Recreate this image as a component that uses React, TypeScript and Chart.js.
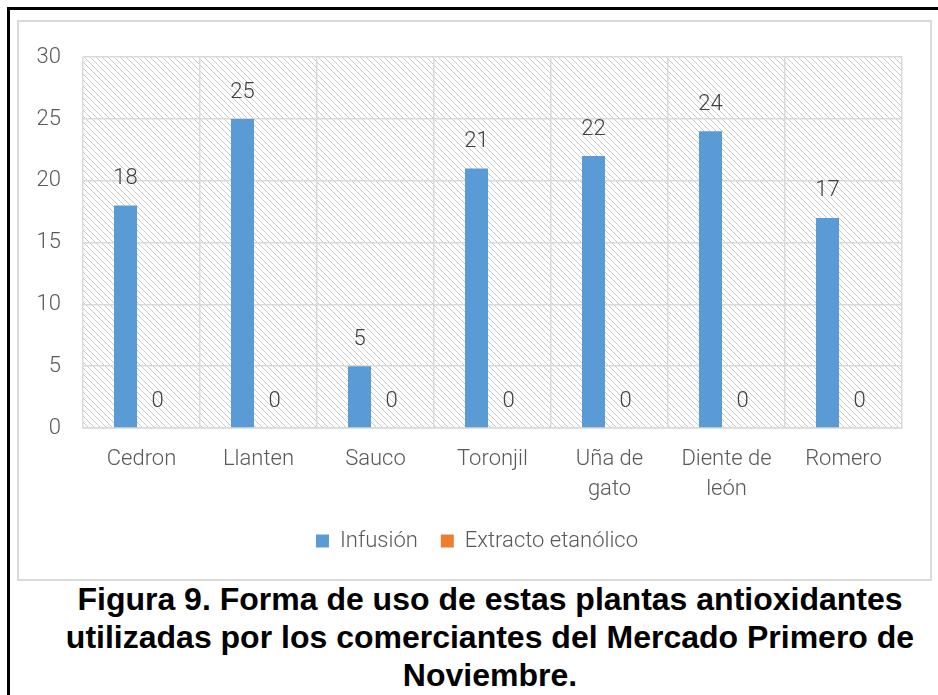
import React, { useEffect, useRef } from 'react';
import { Chart, registerables } from 'chart.js';

Chart.register(...registerables);

// ---- data ----
const categories: (string | string[])[] = [
  'Cedron',
  'Llanten',
  'Sauco',
  'Toronjil',
  ['Uña de', 'gato'],
  ['Diente de', 'león'],
  'Romero',
];
const infusion = [18, 25, 5, 21, 22, 24, 17];
const extracto = [0, 0, 0, 0, 0, 0, 0];
const seriesNames = ['Infusión', 'Extracto etanólico'];
const yMin = 0;
const yMax = 30;
const yStep = 5;
const captionLines = [
  'Figura 9. Forma de uso de estas plantas antioxidantes',
  'utilizadas por los comerciantes del Mercado Primero de',
  'Noviembre.',
];

const FONT = 'Roboto, "Noto Sans", sans-serif';
const AXIS_COLOR = '#595959';
const GRID = '#d9d9d9';

function makeHatch(): HTMLCanvasElement {
  const s = 6;
  const c = document.createElement('canvas');
  c.width = s;
  c.height = s;
  const g = c.getContext('2d')!;
  g.fillStyle = '#ffffff';
  g.fillRect(0, 0, s, s);
  g.strokeStyle = '#c9c9c9';
  g.lineWidth = 1;
  g.beginPath();
  g.moveTo(-1, -1);
  g.lineTo(s + 1, s + 1);
  g.moveTo(-1, s - 1);
  g.lineTo(1, s + 1);
  g.moveTo(s - 1, -1);
  g.lineTo(s + 1, 1);
  g.stroke();
  return c;
}

const hatchPlugin = {
  id: 'hatchBg',
  beforeDraw(chart: any) {
    const { ctx, chartArea } = chart;
    if (!chartArea) return;
    const pat = ctx.createPattern(makeHatch(), 'repeat');
    ctx.save();
    ctx.fillStyle = pat;
    ctx.fillRect(chartArea.left, chartArea.top, chartArea.right - chartArea.left, chartArea.bottom - chartArea.top);
    ctx.restore();
  },
};

// shift the legend row a little to the right, as in the original (centred under the whole frame)
const legendShiftPlugin = {
  id: 'legendShift',
  afterLayout(chart: any) {
    if (chart.legend) {
      chart.legend.left += 33;
    }
  },
};

const valueLabelPlugin = {
  id: 'valueLabels',
  afterDatasetsDraw(chart: any) {
    const ctx = chart.ctx;
    ctx.save();
    ctx.font = `300 22px ${FONT}`;
    ctx.fillStyle = '#404040';
    ctx.textAlign = 'center';
    ctx.textBaseline = 'middle';
    chart.data.datasets.forEach((ds: any, i: number) => {
      const meta = chart.getDatasetMeta(i);
      meta.data.forEach((el: any, j: number) => {
        ctx.fillText(String(ds.data[j]), el.x, el.y - 27);
      });
    });
    ctx.restore();
  },
};

function BarChart() {
  const ref = useRef<HTMLCanvasElement>(null);
  useEffect(() => {
    if (!ref.current) return;
    const chart = new Chart(ref.current, {
      type: 'bar',
      data: {
        labels: categories,
        datasets: [
          {
            label: seriesNames[0],
            data: infusion,
            backgroundColor: '#5B9BD5',
            categoryPercentage: 0.547,
            barPercentage: 0.72,
          },
          {
            label: seriesNames[1],
            data: extracto,
            backgroundColor: '#ED7D31',
            categoryPercentage: 0.547,
            barPercentage: 0.72,
          },
        ],
      },
      options: {
        animation: false,
        responsive: false,
        devicePixelRatio: 1,
        layout: { padding: { top: 29, right: 28, bottom: 17, left: 0 } },
        plugins: {
          legend: {
            position: 'bottom',
            labels: {
              boxWidth: 13,
              boxHeight: 13,
              padding: 23,
              color: AXIS_COLOR,
              font: { family: FONT, size: 22, weight: '300' },
            },
          },
          tooltip: { enabled: false },
          title: { display: false },
        },
        scales: {
          x: {
            grid: { color: GRID, lineWidth: 1.5, drawTicks: false, offset: true },
            border: { color: GRID, width: 1.5 },
            ticks: {
              color: AXIS_COLOR,
              font: { family: FONT, size: 22, lineHeight: 1.36, weight: '300' },
              padding: 17,
              maxRotation: 0,
              autoSkip: false,
            },
            afterFit: (s: any) => {
              s.height = 79;
            },
          },
          y: {
            min: yMin,
            max: yMax,
            ticks: {
              stepSize: yStep,
              color: AXIS_COLOR,
              font: { family: FONT, size: 22, weight: '300' },
              padding: 22,
            },
            grid: { color: GRID, lineWidth: 1.5, drawTicks: false },
            border: { display: false },
            afterFit: (s: any) => {
              s.width = 64;
            },
          },
        },
      },
      plugins: [hatchPlugin, legendShiftPlugin, valueLabelPlugin],
    } as any);
    return () => chart.destroy();
  }, []);
  return (
    <canvas
      ref={ref}
      width={911}
      height={557}
      style={{ position: 'absolute', left: 19, top: 22, width: 911, height: 557 }}
    />
  );
}

export default function App() {
  return (
    <div
      style={{
        position: 'absolute',
        left: 0,
        top: 0,
        width: 938,
        height: 695,
        overflow: 'hidden',
        background: '#ffffff',
      }}
    >
      <div
        style={{
          position: 'absolute',
          left: 7,
          top: 7,
          width: 1000,
          height: 1000,
          borderLeft: '3px solid #000',
          borderTop: '3px solid #000',
        }}
      />
      <div
        style={{
          position: 'absolute',
          left: 17,
          top: 20,
          width: 915,
          height: 561,
          boxSizing: 'border-box',
          border: '2px solid #d9d9d9',
          background: '#fff',
        }}
      />
      <BarChart />
      <div
        style={{
          position: 'absolute',
          left: 40,
          top: 580,
          width: 900,
          textAlign: 'center',
          fontFamily: '"Liberation Sans", Arial, sans-serif',
          fontWeight: 'bold',
          fontSize: 32,
          lineHeight: '38px',
          color: '#000',
        }}
      >
        {captionLines.map((l, i) => (
          <div key={i}>{l}</div>
        ))}
      </div>
    </div>
  );
}
